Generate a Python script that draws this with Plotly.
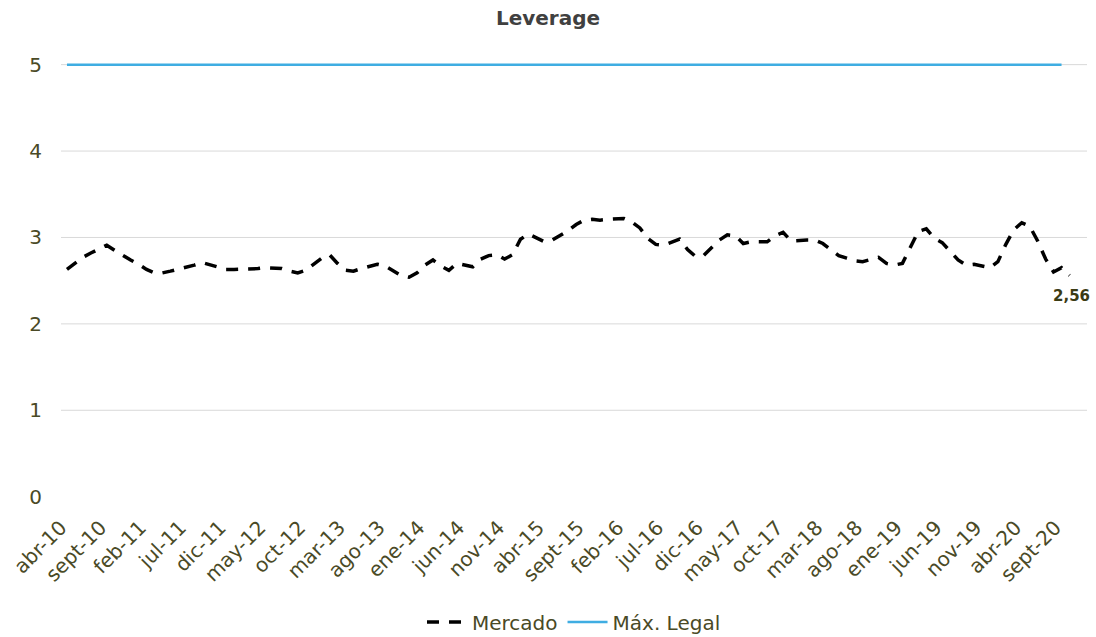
import plotly.graph_objects as go

# ---- data -------------------------------------------------------------
month_names = ["abr", "may", "jun", "jul", "ago", "sept", "oct", "nov", "dic", "ene", "feb", "mar"]
start_year = 10  # abr-10

mercado = [
    2.63, 2.70, 2.77, 2.82, 2.86, 2.91, 2.85, 2.79, 2.74, 2.69,
    2.63, 2.59, 2.59, 2.61, 2.63, 2.65, 2.68, 2.71, 2.68, 2.65,
    2.63, 2.63, 2.63, 2.63, 2.64, 2.65, 2.65, 2.64, 2.61, 2.59,
    2.62, 2.69, 2.76, 2.80, 2.70, 2.62, 2.61, 2.64, 2.66, 2.69,
    2.67, 2.62, 2.56, 2.54, 2.59, 2.68, 2.74, 2.67, 2.62, 2.70,
    2.68, 2.66, 2.75, 2.79, 2.80, 2.75, 2.80, 2.98, 3.04, 2.99,
    2.95, 2.97, 3.02, 3.08, 3.15, 3.20, 3.21, 3.20, 3.21, 3.22,
    3.22, 3.18, 3.11, 2.99, 2.92, 2.91, 2.95, 2.98, 2.86, 2.78,
    2.79, 2.88, 2.97, 3.03, 3.02, 2.93, 2.95, 2.95, 2.95, 3.02,
    3.06, 2.96, 2.97, 2.97, 2.97, 2.93, 2.86, 2.79, 2.76, 2.73,
    2.72, 2.74, 2.77, 2.70, 2.68, 2.70, 2.88, 3.07, 3.10, 2.99,
    2.94, 2.84, 2.74, 2.68, 2.69, 2.67, 2.65, 2.72, 2.92, 3.09,
    3.17, 3.13, 2.96, 2.75, 2.60, 2.65, 2.56,
]
max_legal_value = 5
n_max_legal = 126          # abr-10 .. sept-20
tick_step = 5              # one label every 5 months
y_ticks = [0, 1, 2, 3, 4, 5]

# ---- derived ----------------------------------------------------------
n = len(mercado)
x_idx = list(range(n))
labels = []
for i in range(n):
    m = month_names[i % 12]
    yr = start_year + (i + 3) // 12
    labels.append(f"{m}-{yr:02d}")
max_legal = [max_legal_value] * n_max_legal
tick_idx = list(range(0, n, tick_step))
tick_txt = [labels[i] for i in tick_idx]

olive = "#4a4a26"
font_family = "DejaVu Sans"

fig = go.Figure()
fig.add_trace(go.Scatter(
    x=x_idx, y=mercado, name="Mercado", mode="lines",
    line=dict(color="#000000", width=3.5, dash="12px,10px"),
    hovertext=labels,
))
fig.add_trace(go.Scatter(
    x=x_idx[:n_max_legal], y=max_legal, name="Máx. Legal", mode="lines",
    line=dict(color="#3fade2", width=2.5),
    hovertext=labels[:n_max_legal],
))

# data label for last value
fig.add_annotation(
    x=x_idx[-1], y=mercado[-1], text=f"{mercado[-1]:.2f}".replace(".", ","),
    showarrow=False, yshift=-21, xshift=2,
    font=dict(family=font_family, size=15, color="#3b3b14", weight="bold"),
)

# horizontal gridlines (none at zero)
for v in y_ticks[1:]:
    fig.add_shape(type="line", xref="paper", x0=0, x1=1, yref="y", y0=v, y1=v,
                  line=dict(color="#d9d9d9", width=1), layer="below")

fig.update_layout(
    width=1096, height=637,
    paper_bgcolor="white", plot_bgcolor="white",
    margin=dict(l=58, r=9, t=56, b=136),
    title=dict(text="<b>Leverage</b>", x=0.5, xanchor="center", y=1 - 18 / 637,
               yanchor="middle", font=dict(family=font_family, size=20, color="#404040")),
    showlegend=True,
    legend=dict(orientation="h", x=0.5, xanchor="center", yref="container",
                y=1 - 622 / 637, yanchor="middle",
                font=dict(family=font_family, size=20, color=olive),
                itemwidth=40, traceorder="normal"),
    font=dict(family=font_family, color=olive),
)
fig.update_xaxes(
    range=[-0.75, 128.2], tickmode="array", tickvals=tick_idx, ticktext=tick_txt,
    tickangle=-45, showgrid=False, showline=False, zeroline=False, ticks="",
    tickfont=dict(family=font_family, size=20, color=olive), ticklabelstandoff=10,
    ticklabelshift=-6,
)
fig.update_yaxes(
    range=[-0.05, 5.1], tickmode="array", tickvals=y_ticks,
    showgrid=False, showline=False, zeroline=False, ticks="",
    tickfont=dict(family=font_family, size=20, color=olive), ticklabelstandoff=18,
)

fig.write_html("out.html", config={"displayModeBar": False},
               post_script="document.body.style.margin='0';")
